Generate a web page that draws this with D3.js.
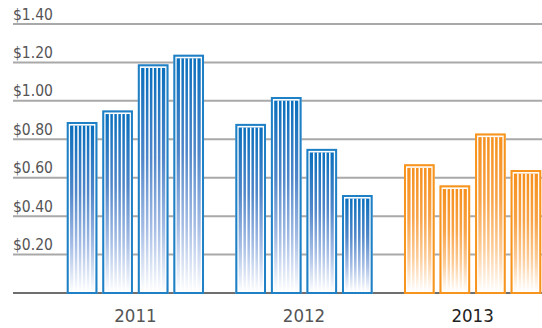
<!DOCTYPE html>
<html>
<head>
<meta charset="utf-8">
<script src="https://cdn.jsdelivr.net/npm/d3@7"></script>
<style>
  html, body { margin: 0; padding: 0; background: #fff; }
  svg { display: block; }
  text { font-family: "Liberation Sans Narrow", "DejaVu Sans Condensed", Lato, sans-serif; }
</style>
</head>
<body>
<svg id="chart" width="542" height="328"></svg>
<script>
// Quarterly values per year (four bars per year)
const years = ["2011", "2012", "2013"];
const values2011 = [0.89, 0.95, 1.19, 1.24];
const values2012 = [0.88, 1.02, 0.75, 0.51];
const values2013 = [0.67, 0.56, 0.83, 0.64];
const tickValues = [0, 0.2, 0.4, 0.6, 0.8, 1.0, 1.2, 1.4];
const tickLabels = ["", "$0.20", "$0.40", "$0.60", "$0.80", "$1.00", "$1.20", "$1.40"];

const series = [
  { year: "2011", values: values2011, theme: "blue" },
  { year: "2012", values: values2012, theme: "blue" },
  { year: "2013", values: values2013, theme: "orange" }
];

const themes = {
  blue:   { stroke: "#1f80c6", halo: "#9cc7e8", stops: ["#0a6fbd", "#4f86c9", "#a6bde5", "#ffffff"] },
  orange: { stroke: "#f7941d", halo: "#fbd0a0", stops: ["#f68f1c", "#f8a347", "#fccc98", "#ffffff"] }
};

const svg = d3.select("#chart");
const W = 542, H = 328;
const left = 13;

const y = d3.scaleLinear().domain([0, 1.4]).range([293, 24]);
const x = d3.scaleBand().domain(years).range([35.4, 572.6]).padding(0.186);
const xi = d3.scaleBand().domain(d3.range(4)).range([0, x.bandwidth()]).paddingInner(0.138);

// Gradients, one per colour theme, relative to each bar's box
const defs = svg.append("defs");
Object.entries(themes).forEach(([key, t]) => {
  const g = defs.append("linearGradient")
    .attr("id", "grad-" + key)
    .attr("x1", 0).attr("y1", 0).attr("x2", 0).attr("y2", 1);
  [0, 0.4, 0.72, 1].forEach((o, i) => {
    g.append("stop").attr("offset", o).attr("stop-color", t.stops[i]);
  });
});

// Gridlines and dollar labels
const grid = svg.append("g");
tickValues.forEach((v, i) => {
  grid.append("line")
    .attr("x1", left).attr("x2", W)
    .attr("y1", y(v)).attr("y2", y(v))
    .attr("stroke", v === 0 ? "#6e6e6e" : "#a9a9a9")
    .attr("stroke-width", 2);
  if (tickLabels[i]) {
    grid.append("text")
      .attr("x", left).attr("y", y(v) - 4.5)
      .attr("font-size", 15.5)
      .attr("fill", "#555")
      .text(tickLabels[i]);
  }
});

// Bars
series.forEach(s => {
  const t = themes[s.theme];
  const g = svg.append("g").attr("transform", `translate(${x(s.year)},0)`);
  s.values.forEach((v, i) => {
    const bx = xi(i), bw = xi.bandwidth();
    const top = y(v), bot = y(0);
    // halo + border
    g.append("rect")
      .attr("x", bx + 0.5).attr("y", top + 0.5)
      .attr("width", bw - 1).attr("height", bot - top - 0.5)
      .attr("fill", "#fff").attr("stroke", t.halo).attr("stroke-width", 1);
    g.append("rect")
      .attr("x", bx + 1).attr("y", top + 1)
      .attr("width", bw - 2).attr("height", bot - top - 1)
      .attr("fill", "#fff").attr("stroke", t.stroke).attr("stroke-width", 2);
    // gradient interior
    const ix = bx + 3.3, iw = bw - 6.6;
    const iy = top + 3.6, ih = bot - 1 - iy;
    g.append("rect")
      .attr("x", ix).attr("y", iy)
      .attr("width", iw).attr("height", Math.max(0, ih))
      .attr("fill", `url(#grad-${s.theme})`);
    // white vertical stripes
    const n = 6;
    d3.range(1, n).forEach(k => {
      g.append("rect")
        .attr("x", ix + k * iw / n - 0.75).attr("y", iy)
        .attr("width", 1.5).attr("height", Math.max(0, ih))
        .attr("fill", "#fff");
    });
  });
  // year label
  svg.append("text")
    .attr("x", x(s.year) + x.bandwidth() / 2)
    .attr("y", 322)
    .attr("text-anchor", "middle")
    .attr("font-size", 18.5)
    .attr("fill", s.year === "2013" ? "#222" : "#555")
    .text(s.year);
});
</script>
</body>
</html>
